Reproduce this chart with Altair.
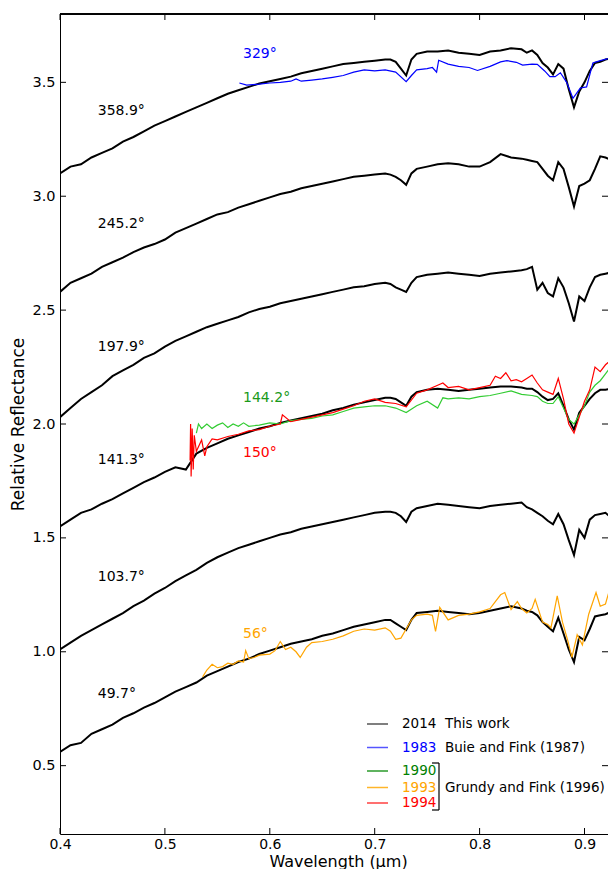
import altair as alt
import pandas as pd

# ---------------- data ----------------
WL = [0.40, 0.41, 0.42, 0.43, 0.44, 0.45, 0.46, 0.47, 0.48, 0.49,
      0.50, 0.51, 0.52, 0.53, 0.54, 0.55, 0.56, 0.57, 0.58, 0.59,
      0.60, 0.61, 0.62, 0.63, 0.64, 0.65, 0.66, 0.67, 0.68, 0.69,
      0.70, 0.71, 0.715, 0.72, 0.725, 0.73, 0.735, 0.74,
      0.75, 0.76, 0.77, 0.78, 0.79, 0.80, 0.81, 0.82, 0.83, 0.84,
      0.845, 0.85, 0.855, 0.86, 0.865, 0.87, 0.875, 0.88, 0.885, 0.89,
      0.895, 0.90, 0.905, 0.91, 0.915, 0.92, 0.925, 0.93]

S_358 = [3.10, 3.13, 3.14, 3.17, 3.19, 3.21, 3.24, 3.26, 3.285, 3.31,
         3.33, 3.35, 3.37, 3.39, 3.41, 3.43, 3.45, 3.465, 3.48, 3.495,
         3.505, 3.515, 3.525, 3.54, 3.55, 3.56, 3.57, 3.58, 3.585, 3.59,
         3.595, 3.60, 3.60, 3.59, 3.56, 3.53, 3.60, 3.625,
         3.635, 3.635, 3.64, 3.63, 3.625, 3.62, 3.635, 3.64, 3.65, 3.645,
         3.63, 3.64, 3.62, 3.585, 3.565, 3.535, 3.58, 3.56, 3.47, 3.39,
         3.46, 3.50, 3.55, 3.585, 3.59, 3.60, 3.605, 3.61]

S_245 = [2.58, 2.62, 2.64, 2.66, 2.69, 2.71, 2.73, 2.755, 2.775, 2.79,
         2.81, 2.84, 2.86, 2.88, 2.90, 2.92, 2.93, 2.95, 2.965, 2.98,
         2.995, 3.01, 3.02, 3.035, 3.045, 3.055, 3.065, 3.075, 3.085, 3.09,
         3.095, 3.10, 3.095, 3.085, 3.07, 3.05, 3.10, 3.12,
         3.13, 3.14, 3.145, 3.14, 3.13, 3.13, 3.15, 3.185, 3.17, 3.165,
         3.16, 3.155, 3.15, 3.12, 3.09, 3.07, 3.15, 3.12, 3.04, 2.955,
         3.045, 3.055, 3.07, 3.12, 3.175, 3.17, 3.16, 3.19]

S_197 = [2.03, 2.07, 2.11, 2.14, 2.17, 2.21, 2.235, 2.26, 2.29, 2.31,
         2.34, 2.365, 2.385, 2.405, 2.425, 2.44, 2.455, 2.47, 2.49, 2.505,
         2.515, 2.53, 2.54, 2.55, 2.56, 2.57, 2.58, 2.59, 2.60, 2.605,
         2.615, 2.62, 2.615, 2.60, 2.59, 2.58, 2.62, 2.645,
         2.655, 2.66, 2.665, 2.66, 2.655, 2.65, 2.66, 2.665, 2.67, 2.675,
         2.68, 2.69, 2.59, 2.62, 2.575, 2.56, 2.64, 2.60, 2.53, 2.45,
         2.56, 2.54, 2.60, 2.645, 2.655, 2.66, 2.665, 2.685]

S_141 = [1.55, 1.58, 1.61, 1.625, 1.65, 1.67, 1.695, 1.72, 1.745, 1.765,
         1.79, 1.81, 1.80, 1.87, 1.895, 1.915, 1.935, 1.95, 1.965, 1.98,
         1.99, 2.005, 2.015, 2.025, 2.035, 2.045, 2.06, 2.07, 2.085, 2.095,
         2.105, 2.115, 2.115, 2.11, 2.095, 2.08, 2.12, 2.14,
         2.15, 2.155, 2.15, 2.145, 2.15, 2.155, 2.16, 2.165, 2.165, 2.16,
         2.155, 2.155, 2.14, 2.12, 2.105, 2.11, 2.135, 2.08, 2.02, 1.975,
         2.05, 2.08, 2.11, 2.135, 2.15, 2.15, 2.155, 2.165]

S_103 = [1.01, 1.04, 1.07, 1.095, 1.12, 1.145, 1.17, 1.20, 1.225, 1.255,
         1.28, 1.31, 1.335, 1.36, 1.39, 1.415, 1.435, 1.455, 1.47, 1.485,
         1.50, 1.515, 1.525, 1.54, 1.55, 1.56, 1.57, 1.58, 1.59, 1.60,
         1.61, 1.615, 1.615, 1.61, 1.595, 1.57, 1.615, 1.63,
         1.64, 1.65, 1.645, 1.64, 1.635, 1.63, 1.64, 1.645, 1.65, 1.655,
         1.635, 1.625, 1.61, 1.595, 1.575, 1.56, 1.605, 1.56, 1.49, 1.425,
         1.535, 1.50, 1.58, 1.60, 1.605, 1.61, 1.59, 1.57]

S_049 = [0.56, 0.59, 0.60, 0.64, 0.66, 0.68, 0.71, 0.73, 0.755, 0.775,
         0.80, 0.825, 0.845, 0.865, 0.895, 0.915, 0.935, 0.955, 0.97, 0.99,
         1.005, 1.02, 1.035, 1.045, 1.055, 1.07, 1.08, 1.095, 1.11, 1.12,
         1.13, 1.14, 1.14, 1.125, 1.11, 1.095, 1.14, 1.17,
         1.175, 1.18, 1.175, 1.17, 1.165, 1.17, 1.18, 1.19, 1.20, 1.19,
         1.18, 1.175, 1.16, 1.13, 1.11, 1.09, 1.15, 1.08, 1.01, 0.955,
         1.065, 1.05, 1.10, 1.155, 1.16, 1.165, 1.175, 1.19]

BLUE_WL = [0.571, 0.578, 0.59, 0.60, 0.61, 0.62, 0.625, 0.63, 0.64, 0.65,
           0.66, 0.67, 0.68, 0.69, 0.70, 0.71, 0.72, 0.73, 0.735, 0.74,
           0.75, 0.755, 0.759, 0.761, 0.77, 0.78, 0.79, 0.798, 0.81, 0.82,
           0.826, 0.835, 0.841, 0.85, 0.855, 0.862, 0.867, 0.872, 0.877, 0.883,
           0.889, 0.896, 0.902, 0.908, 0.915, 0.927, 0.93]
BLUE_R = [3.497, 3.488, 3.492, 3.497, 3.50, 3.505, 3.515, 3.505, 3.51, 3.515,
          3.522, 3.53, 3.545, 3.555, 3.55, 3.555, 3.545, 3.503, 3.53, 3.555,
          3.56, 3.565, 3.545, 3.597, 3.58, 3.57, 3.565, 3.552, 3.57, 3.59,
          3.595, 3.588, 3.576, 3.58, 3.579, 3.55, 3.525, 3.525, 3.542, 3.50,
          3.43, 3.475, 3.48, 3.585, 3.595, 3.61, 3.61]

GREEN_WL = [0.530, 0.532, 0.535, 0.54, 0.545, 0.55, 0.555, 0.56, 0.565, 0.57,
            0.575, 0.58, 0.59, 0.60, 0.61, 0.62, 0.63, 0.64, 0.65, 0.66,
            0.67, 0.68, 0.69, 0.70, 0.71, 0.72, 0.73, 0.74, 0.75, 0.76,
            0.765, 0.77, 0.78, 0.79, 0.80, 0.81, 0.82, 0.83, 0.84, 0.85,
            0.855, 0.86, 0.865, 0.87, 0.875, 0.88, 0.885, 0.89, 0.895, 0.90,
            0.905, 0.91, 0.915, 0.92, 0.925, 0.93]
GREEN_R = [1.96, 2.00, 1.98, 2.00, 1.98, 1.995, 2.005, 1.985, 2.00, 1.99,
           2.005, 1.99, 1.995, 2.005, 2.00, 2.015, 2.02, 2.025, 2.035, 2.04,
           2.055, 2.07, 2.075, 2.08, 2.08, 2.07, 2.05, 2.08, 2.10, 2.07,
           2.115, 2.11, 2.115, 2.11, 2.12, 2.125, 2.135, 2.145, 2.13, 2.125,
           2.12, 2.10, 2.09, 2.09, 2.12, 2.07, 2.02, 2.00, 2.04, 2.08,
           2.14, 2.17, 2.19, 2.22, 2.25, 2.10]

ORANGE_WL = [0.536, 0.54, 0.545, 0.55, 0.555, 0.56, 0.565, 0.57, 0.575, 0.577,
             0.58, 0.585, 0.59, 0.60, 0.605, 0.61, 0.615, 0.62, 0.625, 0.629,
             0.635, 0.64, 0.65, 0.66, 0.67, 0.68, 0.69, 0.70, 0.71, 0.715,
             0.72, 0.725, 0.73, 0.735, 0.74, 0.75, 0.755, 0.758, 0.762, 0.77,
             0.78, 0.79, 0.80, 0.81, 0.815, 0.82, 0.824, 0.83, 0.836, 0.84,
             0.845, 0.85, 0.853, 0.86, 0.865, 0.868, 0.874, 0.879, 0.884, 0.888,
             0.893, 0.898, 0.904, 0.911, 0.915, 0.92, 0.925, 0.93]
ORANGE_R = [0.89, 0.92, 0.945, 0.93, 0.935, 0.95, 0.945, 0.96, 0.955, 1.005,
            0.97, 0.975, 0.985, 0.99, 1.005, 1.045, 1.01, 1.02, 1.00, 0.975,
            1.02, 1.04, 1.045, 1.055, 1.07, 1.09, 1.10, 1.095, 1.105, 1.09,
            1.055, 1.06, 1.10, 1.14, 1.16, 1.165, 1.16, 1.09, 1.195, 1.14,
            1.16, 1.165, 1.175, 1.19, 1.22, 1.25, 1.26, 1.185, 1.22, 1.19,
            1.17, 1.19, 1.23, 1.13, 1.12, 1.105, 1.245, 1.13, 1.05, 0.975,
            1.075, 1.03, 1.165, 1.26, 1.20, 1.21, 1.29, 1.20]

RED_WL = [0.524, 0.5245, 0.525, 0.526, 0.527, 0.528, 0.53, 0.535, 0.538, 0.54,
          0.545, 0.55, 0.56, 0.57, 0.58, 0.59, 0.60, 0.61, 0.612, 0.62,
          0.63, 0.64, 0.65, 0.66, 0.67, 0.68, 0.69, 0.70, 0.71, 0.72,
          0.73, 0.74, 0.75, 0.76, 0.765, 0.77, 0.78, 0.79, 0.80, 0.81,
          0.815, 0.82, 0.825, 0.83, 0.835, 0.84, 0.845, 0.85, 0.855, 0.86,
          0.865, 0.87, 0.875, 0.88, 0.885, 0.89, 0.895, 0.90, 0.905, 0.91,
          0.915, 0.92, 0.925, 0.93]
RED_R = [1.84, 2.00, 1.77, 1.98, 1.80, 1.95, 1.88, 1.93, 1.86, 1.90,
         1.935, 1.93, 1.945, 1.955, 1.97, 1.975, 1.99, 2.00, 2.04, 2.01,
         2.02, 2.03, 2.04, 2.05, 2.065, 2.08, 2.10, 2.11, 2.095, 2.09,
         2.075, 2.135, 2.15, 2.17, 2.18, 2.16, 2.165, 2.15, 2.16, 2.17,
         2.21, 2.20, 2.225, 2.19, 2.195, 2.185, 2.20, 2.215, 2.18, 2.15,
         2.14, 2.13, 2.20, 2.11, 2.00, 1.96, 2.03, 2.10, 2.15, 2.25,
         2.23, 2.26, 2.28, 2.30]

# labels next to the spectra
LABEL_TEXT = ["358.9°", "245.2°", "197.9°", "141.3°", "103.7°", "49.7°",
              "329°", "144.2°", "150°", "56°"]
LABEL_WL = [0.436, 0.436, 0.436, 0.436, 0.436, 0.436, 0.5745, 0.5745, 0.5745, 0.5745]
LABEL_R = [3.374, 2.878, 2.338, 1.842, 1.329, 0.815, 3.624, 2.114, 1.873, 1.078]
LABEL_COLOR = ["black"] * 6 + ["#0000ff", "#1a9a1a", "#ff0000", "#ffa500"]

X_TICKS = [0.4, 0.5, 0.6, 0.7, 0.8, 0.9]
Y_TICKS = [0.5, 1.0, 1.5, 2.0, 2.5, 3.0, 3.5]

LEG_YEAR = ["2014", "1983", "1990", "1993", "1994"]
LEG_DESC = ["This work", "Buie and Fink (1987)", "", "", ""]
LEG_LINE_COLOR = ["#555555", "#5555ff", "#2a9a2a", "#ffb52a", "#ff4040"]
LEG_TEXT_COLOR = ["black", "#0000ff", "#008000", "#ffa500", "#ff0000"]
GRUNDY = "Grundy and Fink (1996)"

# ---------------- layout ----------------
W, H = 548, 820
FONT = "DejaVu Sans"
LEG_ROW_Y = [710, 733.5, 757, 773.5, 789]
LEG_FS = 13.5
X_MAX = 0.4 + W / 1049.0

xscale = alt.Scale(domain=[0.4, X_MAX], nice=False, zero=False)
yscale = alt.Scale(domain=[0.2, 3.8], nice=False, zero=False)

xaxis = alt.Axis(values=X_TICKS, format=".1f", ticks=False, tickSize=0, grid=False,
                 labelFont=FONT, labelFontSize=14, labelColor="black", labelPadding=3,
                 labelFlush=False, domainColor="black", domainWidth=1,
                 title="Wavelength (μm)", titleFont=FONT, titleFontSize=16,
                 titleFontWeight="normal", titleColor="black",
                 titleX=278, titleY=27, titleAlign="center", titleBaseline="middle")
yaxis = alt.Axis(values=Y_TICKS, format=".1f", ticks=False, tickSize=0, grid=False,
                 labelFont=FONT, labelFontSize=14.5, labelColor="black", labelPadding=5,
                 labelFlush=False, domainColor="black", domainWidth=1,
                 title="Relative Reflectance", titleFont=FONT, titleFontSize=17,
                 titleFontWeight="normal", titleColor="black",
                 titleX=-42, titleY=H / 2, titleAngle=270, titleAlign="center",
                 titleBaseline="middle")


def X(field="wl"):
    return alt.X(f"{field}:Q", scale=xscale, axis=xaxis)


def Y(field="r"):
    return alt.Y(f"{field}:Q", scale=yscale, axis=yaxis)


# black spectra
rows = []
for name, vals in [("358.9", S_358), ("245.2", S_245), ("197.9", S_197),
                   ("141.3", S_141), ("103.7", S_103), ("49.7", S_049)]:
    for l, v in zip(WL, vals):
        rows.append({"wl": l, "r": v, "series": name})
black_df = pd.DataFrame(rows)

black = alt.Chart(black_df).mark_line(color="black", strokeWidth=2.0, clip=True).encode(
    x=X(), y=Y(), detail="series:N", order="wl:Q")


def colored(wl, r, color, width=1.2):
    df = pd.DataFrame({"wl": wl, "r": r})
    return alt.Chart(df).mark_line(color=color, strokeWidth=width, clip=True).encode(
        x=X(), y=Y(), order="wl:Q")


orange = colored(ORANGE_WL, ORANGE_R, "#ffa500")
green = colored(GREEN_WL, GREEN_R, "#33cc33")
red = colored(RED_WL, RED_R, "#ff0000")
blue = colored(BLUE_WL, BLUE_R, "#0000ff")

lab_df = pd.DataFrame({"wl": LABEL_WL, "r": LABEL_R, "t": LABEL_TEXT, "c": LABEL_COLOR})
labels = alt.Chart(lab_df).mark_text(align="left", baseline="middle", font=FONT,
                                     fontSize=14).encode(
    x=X(), y=Y(), text="t:N", color=alt.Color("c:N", scale=None))

# inward ticks on all four sides
xt = pd.DataFrame({"wl": X_TICKS})
yt = pd.DataFrame({"r": Y_TICKS})
TL = 6
tick_bottom = alt.Chart(xt).mark_rule(color="black", strokeWidth=1).encode(
    x=X(), y=alt.value(H), y2=alt.value(H - TL))
tick_top = alt.Chart(xt).mark_rule(color="black", strokeWidth=1).encode(
    x=X(), y=alt.value(0), y2=alt.value(TL))
tick_left = alt.Chart(yt).mark_rule(color="black", strokeWidth=1).encode(
    y=Y(), x=alt.value(0), x2=alt.value(TL))
tick_right = alt.Chart(yt).mark_rule(color="black", strokeWidth=1).encode(
    y=Y(), x=alt.value(W - TL), x2=alt.value(W))
top_spine = alt.Chart(xt).mark_rule(color="black", strokeWidth=1).encode(
    x=alt.value(0), x2=alt.value(W), y=alt.value(0))

# hand-made legend
leg_df = pd.DataFrame({"year": LEG_YEAR, "desc": LEG_DESC, "lc": LEG_LINE_COLOR,
                       "tc": LEG_TEXT_COLOR, "py": LEG_ROW_Y})
leg_lines = alt.Chart(leg_df).mark_rule(strokeWidth=1.5).encode(
    x=alt.value(307), x2=alt.value(328), y=alt.Y("py:Q", scale=None),
    color=alt.Color("lc:N", scale=None))
leg_year = alt.Chart(leg_df).mark_text(align="left", baseline="middle", font=FONT,
                                       fontSize=LEG_FS).encode(
    x=alt.value(342), y=alt.Y("py:Q", scale=None), text="year:N",
    color=alt.Color("tc:N", scale=None))
leg_desc = alt.Chart(leg_df).mark_text(align="left", baseline="middle", font=FONT,
                                       fontSize=LEG_FS, color="black").encode(
    x=alt.value(385), y=alt.Y("py:Q", scale=None), text="desc:N")
grundy_df = pd.DataFrame({"t": [GRUNDY]})
leg_grundy = alt.Chart(grundy_df).mark_text(align="left", baseline="middle", font=FONT,
                                            fontSize=LEG_FS, color="black").encode(
    x=alt.value(385), y=alt.value(773.5), text="t:N")
br_v = alt.Chart(grundy_df).mark_rule(color="black", strokeWidth=1.2).encode(
    x=alt.value(379), y=alt.value(749), y2=alt.value(796))
br_t = alt.Chart(grundy_df).mark_rule(color="black", strokeWidth=1.2).encode(
    x=alt.value(372), x2=alt.value(379), y=alt.value(749))
br_b = alt.Chart(grundy_df).mark_rule(color="black", strokeWidth=1.2).encode(
    x=alt.value(372), x2=alt.value(379), y=alt.value(796))

chart = alt.layer(
    black, orange, green, red, blue, labels,
    tick_bottom, tick_top, tick_left, tick_right, top_spine,
    leg_lines, leg_year, leg_desc, leg_grundy, br_v, br_t, br_b
).properties(
    width=W, height=H,
    autosize=alt.AutoSizeParams(type="none"),
    padding={"left": 52, "top": 6, "right": 0, "bottom": 35},
).configure_view(stroke=None)

chart.save("out.html", embed_options={"renderer": "svg", "actions": False})
